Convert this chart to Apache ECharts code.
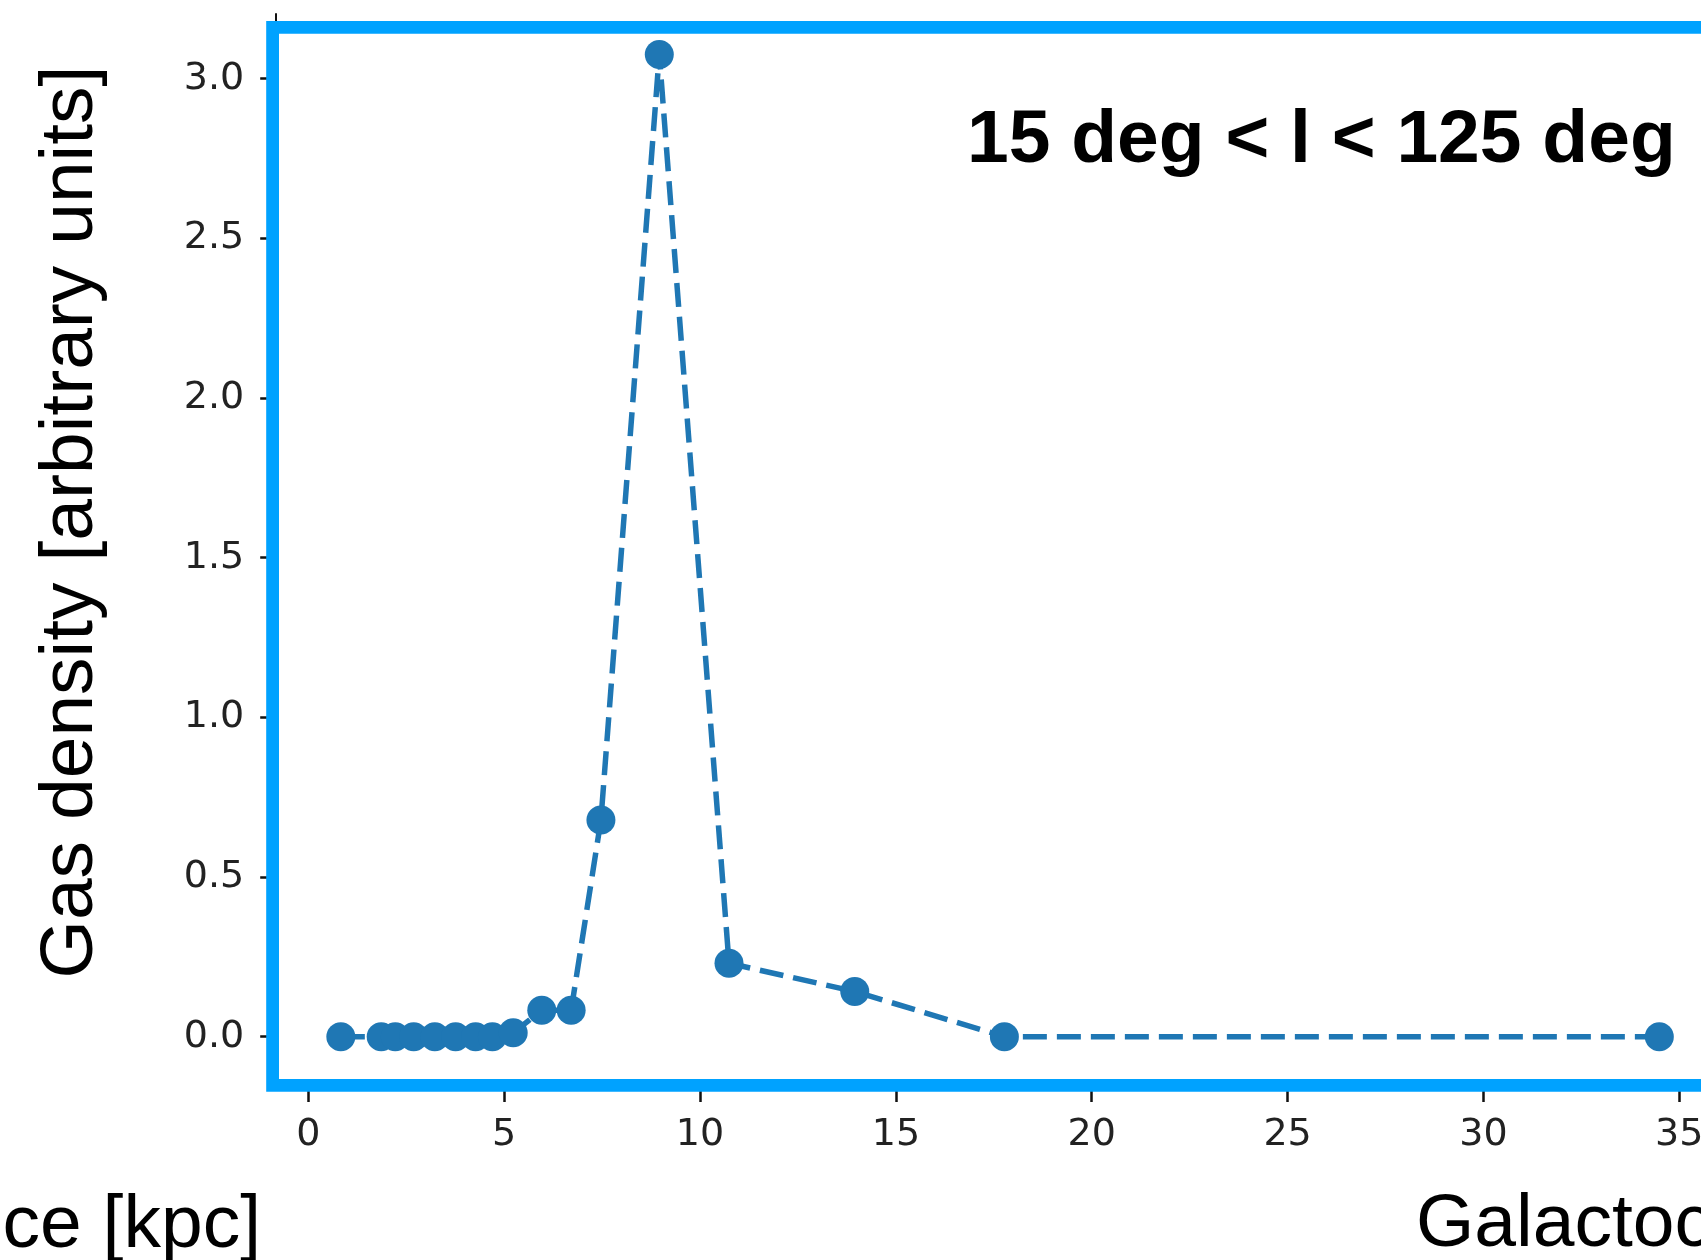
<!DOCTYPE html>
<html>
<head>
<meta charset="utf-8">
<script src="https://cdn.jsdelivr.net/npm/echarts@6/dist/echarts.min.js"></script>
<style>
html,body{margin:0;padding:0;background:#fff;}
#chart{width:1701px;height:1260px;}
</style>
</head>
<body>
<div id="chart"></div>
<script>
// Data
const distanceKpc = [0.83, 1.86, 2.22, 2.69, 3.23, 3.76, 4.27, 4.70, 5.23, 5.96, 6.71, 7.47, 8.96, 10.74, 13.95, 17.77, 34.49];
const gasDensity  = [0, 0, 0, 0, 0, 0, 0, 0, 0.0125, 0.083, 0.083, 0.679, 3.076, 0.23, 0.1415, 0, 0];
const xTicks = [0, 5, 10, 15, 20, 25, 30, 35];
const yTicks = [0, 0.5, 1.0, 1.5, 2.0, 2.5, 3.0];
const yTitle = 'Gas density [arbitrary units]';
const xTitle = 'Galactocentric distance [kpc]';
const annotation = '15 deg < l < 125 deg';

const points = distanceKpc.map((x, i) => [x, gasDensity[i]]);

const chart = echarts.init(document.getElementById('chart'), null, {renderer: 'canvas'});
const tickFont = {fontFamily: 'DejaVu Sans', fontSize: 38, color: '#222'};

chart.setOption({
  animation: false,
  backgroundColor: '#fff',
  grid: {left: 276.2, top: 14, width: 1450.1, height: 1071.9, containLabel: false, outerBoundsMode: 'none'},
  xAxis: {
    type: 'value', min: -0.82, max: 36.2,
    splitLine: {show: false},
    axisLine: {show: true, onZero: false, lineStyle: {color: '#111', width: 2}},
    axisTick: {show: true, customValues: xTicks, length: 16, lineStyle: {color: '#111', width: 2.5}},
    axisLabel: Object.assign({customValues: xTicks, margin: 30, formatter: v => String(v)}, tickFont)
  },
  yAxis: {
    type: 'value', min: -0.154, max: 3.2026,
    splitLine: {show: false},
    axisLine: {show: true, onZero: false, lineStyle: {color: '#111', width: 2}},
    axisTick: {show: true, customValues: yTicks, length: 16, lineStyle: {color: '#111', width: 2.5}},
    axisLabel: Object.assign({customValues: yTicks, margin: 32, padding: [4, 0, 0, 0], formatter: v => v.toFixed(1)}, tickFont)
  },
  series: [{
    type: 'line',
    data: points,
    symbol: 'circle',
    symbolSize: 29,
    itemStyle: {color: '#1f77b4'},
    lineStyle: {color: '#1f77b4', width: 5.5, type: [24, 10]},
    z: 3
  }],
  graphic: [
    {
      type: 'rect', z: 100,
      shape: {x: 272.6, y: 27.3, width: 1500, height: 1058.1},
      style: {fill: 'none', stroke: '#00a2ff', lineWidth: 12.8}
    },
    {
      type: 'text', z: 101, x: 71, y: 522, rotation: Math.PI / 2,
      style: {text: yTitle, fontFamily: 'Liberation Sans', fontSize: 75, fill: '#000',
               textAlign: 'center', textVerticalAlign: 'middle'}
    },
    {
      type: 'text', z: 101, x: 1416, y: 1225,
      style: {text: xTitle, fontFamily: 'Liberation Sans', fontSize: 75, fill: '#000',
               textAlign: 'left', textVerticalAlign: 'middle'}
    },
    {
      type: 'text', z: 101, x: 261, y: 1226,
      style: {text: xTitle, fontFamily: 'Liberation Sans', fontSize: 75, fill: '#000',
               textAlign: 'right', textVerticalAlign: 'middle'}
    },
    {
      type: 'text', z: 101, x: 967, y: 141,
      style: {text: annotation, fontFamily: 'Liberation Sans', fontWeight: 'bold', fontSize: 75, fill: '#000',
               textAlign: 'left', textVerticalAlign: 'middle'}
    }
  ]
});
</script>
</body>
</html>
